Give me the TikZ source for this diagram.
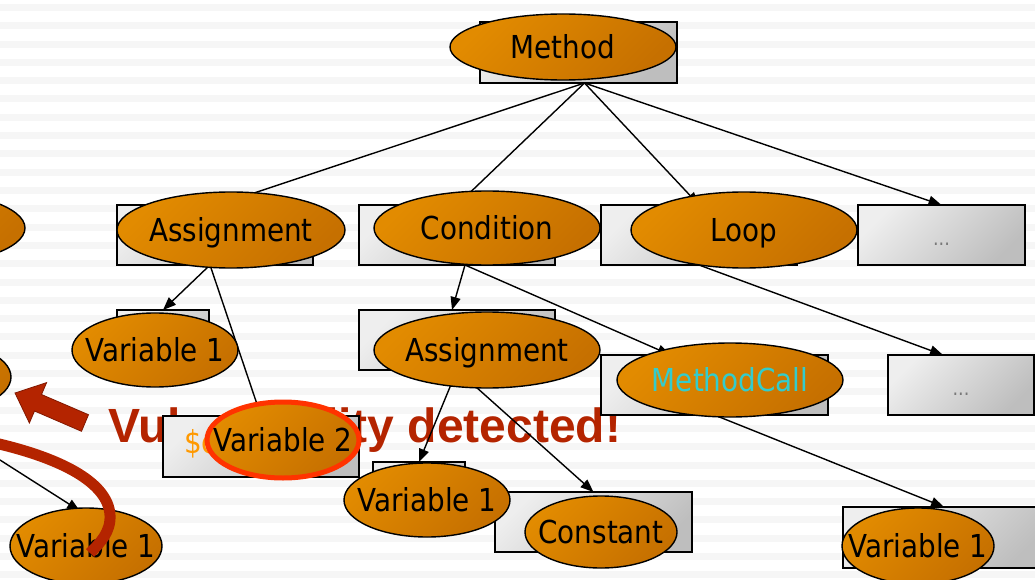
\documentclass[tikz,border=0pt]{standalone}
\usepackage{fontspec}
\setmainfont{DejaVu Sans}[FakeStretch=0.88]
\newfontfamily\alertfont{Liberation Sans}
\usetikzlibrary{shapes.geometric,arrows.meta}
\pgfdeclarelayer{back}
\pgfdeclarelayer{links}
\pgfsetlayers{back,links,main}

\definecolor{nodeHi}{RGB}{226,139,0}
\definecolor{nodeLo}{RGB}{198,112,0}
\definecolor{boxHi}{RGB}{238,238,238}
\definecolor{boxLo}{RGB}{190,190,190}
\definecolor{alertred}{RGB}{180,36,0}
\definecolor{alertdark}{RGB}{130,24,0}
\definecolor{ringred}{RGB}{255,51,0}
\definecolor{callcyan}{RGB}{51,204,204}
\definecolor{dollar}{RGB}{255,153,0}
\definecolor{stripe}{RGB}{246,246,246}
\definecolor{dotgray}{RGB}{120,120,120}

\newcommand\diagfont{\fontsize{31.6}{36}\selectfont}
\newcommand\smalldots{\fontsize{20}{22}\selectfont}
% zero-width label so the ellipse keeps its given size
\newcommand\tag[1]{\makebox[0pt]{#1}}

\tikzset{
  tbox/.style={rectangle, draw=black, line width=1.4pt, inner sep=0pt, outer sep=0pt,
    top color=boxHi, bottom color=boxLo, shading angle=45},
  pill/.style={ellipse, draw=black, line width=1.4pt, inner sep=0pt, outer sep=0pt,
    top color=nodeHi, bottom color=nodeLo, shading angle=45,
    text height=23pt, text depth=0pt, font=\diagfont},
  link/.style={draw=black, line width=1.4pt, -{Triangle[length=13pt,width=10pt]}},
  dotlabel/.style={anchor=base, inner sep=0pt, text=dotgray, font=\smalldots},
}

\begin{document}
\begin{tikzpicture}[x=1pt,y=-1pt]
\useasboundingbox (0,0) rectangle (1035,580);
\clip (0,0) rectangle (1035,580);

% striped slide background and the warning text
\begin{pgfonlayer}{back}
  \fill[white] (0,0) rectangle (1035,580);
  \foreach \k in {0,...,31}
    \fill[stripe] (0,{4+18.3*\k}) rectangle (1035,{11+18.3*\k});
  \node[anchor=base west, inner sep=0pt, text=alertred,
        font=\alertfont\bfseries\fontsize{48}{50}\selectfont] (alert) at (108,442)
        {Vulnerability detected!};
\end{pgfonlayer}

% grey boxes behind the tree nodes
\node[tbox, minimum width=197pt, minimum height=61pt] (mR)   at (578.5,52.5) {};
\node[tbox, minimum width=196pt, minimum height=60pt] (aR)   at (215,235) {};
\node[tbox, minimum width=196pt, minimum height=60pt] (cR)   at (457,235) {};
\node[tbox, minimum width=196pt, minimum height=60pt] (lR)   at (699,235) {};
\node[tbox, minimum width=167pt, minimum height=60pt] (d1R)  at (941.5,235) {};
\node[tbox, minimum width=92pt,  minimum height=60pt] (v1aR) at (163,340) {};
\node[tbox, minimum width=196pt, minimum height=60pt] (a2R)  at (457,340) {};
\node[tbox, minimum width=227pt, minimum height=60pt] (mcR)  at (714.5,385) {};
\node[tbox, minimum width=146pt, minimum height=60pt] (d2R)  at (961,385) {};
\node[tbox, minimum width=196pt, minimum height=61pt] (v2R)  at (261,446.5) {};
\node[tbox, minimum width=92pt,  minimum height=60pt] (v1bR) at (419,492) {};
\node[tbox, minimum width=197pt, minimum height=60pt] (coR)  at (593.5,522) {};
\node[tbox, minimum width=202pt, minimum height=61pt] (v1cR) at (944,537.5) {};

\node[anchor=base west, inner sep=0pt, text=dollar, font=\diagfont] (v2code) at (184,453) {\$c};
\node[dotlabel] (d1t) at (941.5,245) {...};
\node[dotlabel] (d2t) at (961,395) {...};

% tree nodes
\node[pill, minimum width=228pt, minimum height=76pt] (lp1) at (-89,228) {};
\node[pill, minimum width=166pt, minimum height=74pt] (lp2) at (-72,377) {};
\node[pill, minimum width=226pt, minimum height=66pt] (m)   at (563,47)  {\tag{Method}};
\node[pill, minimum width=228pt, minimum height=76pt] (a)   at (231,230) {\tag{Assignment}};
\node[pill, minimum width=226pt, minimum height=74pt] (c)   at (487,228) {\tag{Condition}};
\node[pill, minimum width=226pt, minimum height=76pt] (l)   at (744,230) {\tag{Loop}};
\node[pill, minimum width=166pt, minimum height=74pt] (v1a) at (155,350) {\tag{Variable 1}};
\node[pill, minimum width=226pt, minimum height=76pt] (a2)  at (487,350) {\tag{Assignment}};
\node[pill, minimum width=226pt, minimum height=74pt, text=callcyan] (mc) at (730,380) {\tag{MethodCall}};
\node[pill, minimum width=166pt, minimum height=74pt] (v1b) at (427,500) {\tag{Variable 1}};
\node[pill, minimum width=152pt, minimum height=72pt] (co)  at (601,532) {\tag{Constant}};
\node[pill, minimum width=152pt, minimum height=76pt] (v1c) at (918,546) {\tag{Variable 1}};
\node[pill, minimum width=152pt, minimum height=76pt] (v1d) at (86,546)  {\tag{Variable 1}};
\node[pill, draw=ringred, line width=5pt, minimum width=152pt, minimum height=76pt] (v2) at (283,440) {\tag{Variable 2}};

% parent-to-child links
\coordinate (edgeL) at (0,460);
\begin{pgfonlayer}{links}
  \draw[link] ([xshift=6pt]mR.south) -- ([xshift=3pt]aR.north);
  \draw[link] ([xshift=6pt]mR.south) -- (cR.north);
  \draw[link] ([xshift=6pt]mR.south) -- (lR.north);
  \draw[link] ([xshift=6pt]mR.south) -- (d1R.north);
  \draw[link] ([xshift=-5pt]aR.south) -- (v1aR.north);
  \draw[link] ([xshift=-5pt]aR.south) -- (v2R.north);
  \draw[link] ([xshift=8pt]cR.south) -- ([xshift=-5pt]a2R.north);
  \draw[link] ([xshift=8pt]cR.south) -- ([xshift=-44pt]mcR.north);
  \draw[link] (lR.south) -- ([xshift=-18pt]d2R.north);
  \draw[link] (a2R.south) -- (v1bR.north);
  \draw[link] (a2R.south) -- (coR.north);
  \draw[link] (mcR.south) -- (v1cR.north);
  \draw[link] (edgeL) -- ([xshift=-6pt,yshift=-3pt]v1d.north);
\end{pgfonlayer}

% red pointer arrow and the highlighted data path
\filldraw[fill=alertred, draw=alertdark, line width=0.8pt]
  (15,393) -- (46.6,382.6) -- (41.5,394.5) -- (88.5,414.7)
  -- (81.5,431.3) -- (34.5,411) -- (29.4,423) -- cycle;
\draw[alertred, line width=11pt]
  (-5,443) .. controls (60,458) and (108,482) .. (110,515)
  .. controls (111,532) and (100,543) .. (90,553);
\end{tikzpicture}
\end{document}
